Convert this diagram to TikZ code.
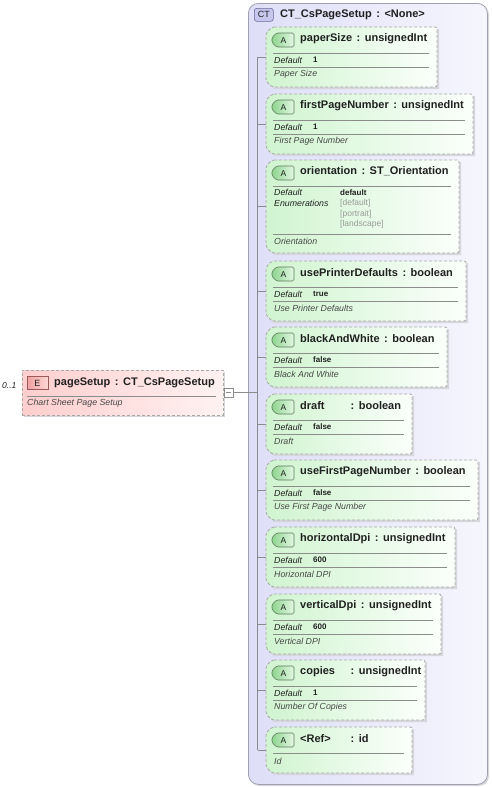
\documentclass[tikz,border=0pt]{standalone}
\usepackage{fontspec}
\setmainfont{Liberation Sans}
\usetikzlibrary{calc}
\definecolor{lavL}{HTML}{DEDEF8}
\definecolor{lavR}{HTML}{F6F6FE}
\definecolor{grnL}{HTML}{D0F4D0}
\definecolor{grnR}{HTML}{FBFFFB}
\definecolor{pnkL}{HTML}{FFCECE}
\definecolor{pnkR}{HTML}{FFF2F2}
\definecolor{bord}{HTML}{A8A8A8}
\definecolor{linec}{HTML}{8C8C8C}
\definecolor{shad}{HTML}{D6D6DC}
\definecolor{abadgeL}{HTML}{8ED48E}
\definecolor{abadgeR}{HTML}{E4F8E4}
\definecolor{abadgeB}{HTML}{5E7A5E}
\definecolor{ebadgeL}{HTML}{F2A0A0}
\definecolor{ebadgeR}{HTML}{FCD6D6}
\definecolor{ebadgeB}{HTML}{9A5A5A}
\definecolor{ctbadge}{HTML}{C6C6EE}
\definecolor{ctbadgeB}{HTML}{6A6A9A}
\definecolor{ctbord}{HTML}{A0A0B0}
\definecolor{txt}{HTML}{202020}
\definecolor{enumc}{HTML}{9A9A9A}

\tikzset{
  x=1pt, y=-1pt,
  boxborder/.style={draw=bord, dash pattern=on 3pt off 2pt, line width=0.8pt},
  attrfill/.style={left color=grnL, right color=grnR},
  titletext/.style={anchor=west, inner sep=0, font=\fontsize{11}{13}\selectfont\bfseries, text=txt},
  keytext/.style={anchor=west, inner sep=0, font=\fontsize{8.8}{10}\selectfont\itshape, text=txt},
  valtext/.style={anchor=west, inner sep=0, font=\fontsize{8}{10}\selectfont\bfseries, text=txt},
  enumtext/.style={anchor=west, inner sep=0, font=\fontsize{8.5}{10}\selectfont, text=enumc},
  desctext/.style={anchor=west, inner sep=0, font=\fontsize{8.8}{10}\selectfont\itshape, text=black!72},
  sepline/.style={draw=linec, line width=0.6pt},
  conn/.style={draw=linec, line width=0.6pt},
  badgetext/.style={inner sep=0, font=\fontsize{8.5}{10}\selectfont, text=txt},
}

% #1 id, #2 top, #3 right, #4 bottom
\newcommand\attrshape[4]{%
  \fill[shad] (274,#2+2) -- (#3+2,#2+2) -- (#3+2,#4+2) -- (274,#4+2) -- (268,#4-4) -- (268,#2+8) -- cycle;
  \path[attrfill, boxborder, rounded corners=2] (272,#2) -- (#3,#2) -- (#3,#4) -- (272,#4) -- (266,#4-6) -- (266,#2+6) -- cycle;
  \coordinate (#1) at (266,{(#2+#4)/2});
  \coordinate (#1bus) at (257.5,{(#2+#4)/2});
  \path[left color=abadgeL, right color=abadgeR, draw=abadgeB, line width=0.6pt, rounded corners=1.5]
    (276.5,#2+6) -- (294,#2+6) -- (294,#2+20) -- (276.5,#2+20) -- (272,#2+15.5) -- (272,#2+10.5) -- cycle;
  \node[badgetext] (#1b) at (283.5,#2+13.2) {A};
}

% #1 id, #2 top, #3 right, #4 name, #5 type, #6 default, #7 desc
\newcommand\stdattr[7]{%
  \attrshape{#1}{#2}{#3}{#2+60}
  \node[titletext] (#1t) at (300,#2+11.5) {#4\hspace{4.5pt}:\hspace{4.5pt}#5};
  \draw[sepline] (273,#2+26) -- (#3-8,#2+26);
  \node[keytext] (#1k) at (274,#2+33) {Default};
  \node[valtext] (#1v) at (313,#2+32.5) {#6};
  \draw[sepline] (273,#2+40) -- (#3-8,#2+40);
  \node[desctext] (#1d) at (274,#2+47.5) {#7};
}

\begin{document}
\begin{tikzpicture}
\useasboundingbox (0,0) rectangle (491,787);

% container
\fill[shad, rounded corners=10] (250,5) rectangle (489,786);
\node[left color=lavL, right color=lavR, draw=ctbord, line width=0.8pt, rounded corners=10,
      minimum width=239pt, minimum height=781pt, inner sep=0, anchor=north west] (ct) at (248,3) {};
\node[fill=ctbadge, draw=ctbadgeB, line width=0.6pt, rounded corners=2.5, minimum width=19pt,
      minimum height=13pt, inner sep=0, anchor=north west, font=\fontsize{9}{10}\selectfont, text=txt] (ctb) at (254,8) {CT};
\node[titletext] (ctt) at (280,14.5) {CT\_CsPageSetup\hspace{4.5pt}:\hspace{4.5pt}<None>};

% element
\fill[shad] (24,372) rectangle (225,417);
\node[left color=pnkL, right color=pnkR, boxborder, minimum width=201pt, minimum height=45pt,
      inner sep=0, anchor=north west] (elem) at (22,370) {};
\path[left color=ebadgeL, right color=ebadgeR, draw=ebadgeB, line width=0.6pt]
  (27,376.5) rectangle (48,389.5);
\node[badgetext, font=\fontsize{9}{10}\selectfont] (eb) at (37.5,383.3) {E};
\node[titletext] (et) at (54,382.5) {pageSetup\hspace{4.5pt}:\hspace{4.5pt}CT\_CsPageSetup};
\draw[sepline] (27,396) -- (216,396);
\node[desctext] (ed) at (27,403.5) {Chart Sheet Page Setup};
\node[keytext, font=\fontsize{8.5}{10}\selectfont\itshape] (occ) at (2,386) {0..1};
\node[draw=linec, fill=white, line width=0.6pt, minimum size=9pt, inner sep=0, anchor=west] (col) at (223.5,392.5) {};
\draw[linec, line width=0.6pt] ($(col.center)+(-2.5,0)$) -- ($(col.center)+(2.5,0)$);

% attributes
\stdattr{a1}{27}{437}{paperSize}{unsignedInt}{1}{Paper Size}
\stdattr{a2}{94}{473}{firstPageNumber}{unsignedInt}{1}{First Page Number}

\attrshape{a3}{160}{459}{253}
\node[titletext] (a3t) at (300,171.5) {orientation\hspace{4.5pt}:\hspace{4.5pt}ST\_Orientation};
\draw[sepline] (273,186) -- (451,186);
\node[keytext] (a3k) at (274,192.5) {Default};
\node[keytext] (a3e) at (274,203.5) {Enumerations};
\node[valtext] (a3v) at (340,192.5) {default};
\node[enumtext] (a3e1) at (340,203.5) {[default]};
\node[enumtext] (a3e2) at (340,214) {[portrait]};
\node[enumtext] (a3e3) at (340,224.5) {[landscape]};
\draw[sepline] (273,234) -- (451,234);
\node[desctext] (a3d) at (274,241.5) {Orientation};

\stdattr{a4}{261}{466}{usePrinterDefaults}{boolean}{true}{Use Printer Defaults}
\stdattr{a5}{327}{447}{blackAndWhite}{boolean}{false}{Black And White}
\stdattr{a6}{394}{412}{\makebox[46pt][l]{draft}}{boolean}{false}{Draft}
\stdattr{a7}{460}{478}{useFirstPageNumber}{boolean}{false}{Use First Page Number}
\stdattr{a8}{527}{455}{horizontalDpi}{unsignedInt}{600}{Horizontal DPI}
\stdattr{a9}{594}{441}{verticalDpi}{unsignedInt}{600}{Vertical DPI}
\stdattr{a10}{660}{425}{\makebox[46pt][l]{copies}}{unsignedInt}{1}{Number Of Copies}

\attrshape{a11}{727}{412}{773}
\node[titletext] (a11t) at (300,739) {\makebox[46pt][l]{<Ref>}\hspace{4.5pt}:\hspace{4.5pt}id};
\draw[sepline] (273,753) -- (404,753);
\node[desctext] (a11d) at (274,761.5) {Id};

% connectors
\draw[conn] (a1bus) -- (a11bus);
\foreach \i in {1,...,11} { \draw[conn] (a\i bus) -- (a\i); }
\draw[conn] (col.east) -- (col.east -| a1bus);
\end{tikzpicture}
\end{document}
